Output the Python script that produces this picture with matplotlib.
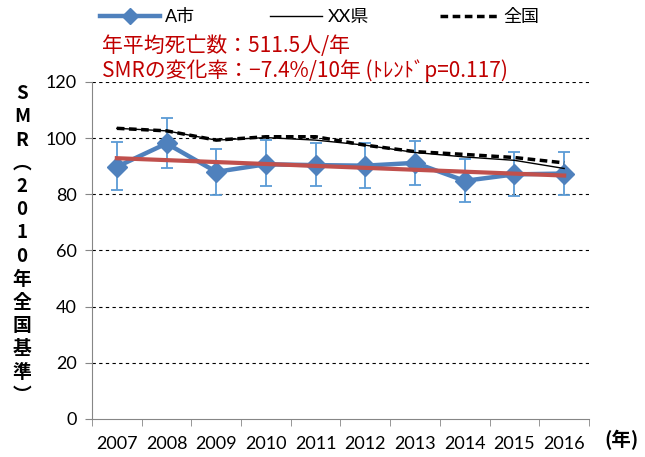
import matplotlib
matplotlib.use("Agg")
import matplotlib.pyplot as plt
import numpy as np

plt.rcParams['font.family'] = ['Lato', 'Noto Sans CJK JP', 'DejaVu Sans']

# ---- data ----
years = ['2007', '2008', '2009', '2010', '2011', '2012', '2013', '2014', '2015', '2016']
city = [89.8, 98.1, 88.0, 90.7, 90.4, 90.2, 91.2, 84.8, 87.1, 87.4]
city_hi = [98.5, 107.0, 96.3, 99.3, 98.3, 98.3, 99.0, 92.7, 94.9, 95.1]
city_lo = [81.7, 89.5, 79.9, 82.9, 82.9, 82.4, 83.2, 77.3, 79.4, 79.6]
pref = [103.5, 102.6, 99.3, 100.2, 99.3, 97.5, 94.9, 93.3, 92.1, 89.2]
nation = [103.5, 102.6, 99.3, 100.5, 100.5, 97.5, 95.2, 94.2, 93.1, 91.2]
yticks = [0, 20, 40, 60, 80, 100, 120]

x = np.arange(len(years))
city = np.array(city)
err = [city - np.array(city_lo), np.array(city_hi) - city]

# trend line (linear fit of city values)
k, b = np.polyfit(x, city, 1)

fig = plt.figure(figsize=(6.45, 4.57), dpi=100)
ax = fig.add_axes([0.1426, 0.0832, 0.9132 - 0.1426, 0.8206 - 0.0832])

blue = '#4F81BD'
ax.errorbar(x, city, yerr=err, fmt='none', ecolor='#5B9BD5', elinewidth=1.3,
            capsize=4, capthick=1.3, zorder=3)
h1, = ax.plot(x, city, color=blue, lw=3.2, marker='D', markersize=10, zorder=4)
h2, = ax.plot(x, pref, color='black', lw=1.0, zorder=5)
h3, = ax.plot(x, nation, color='black', lw=2.5, ls=(0, (2.2, 1.3)), zorder=5)
ax.plot(x, k * x + b, color='#C0504D', lw=3, zorder=6)

ax.set_xlim(-0.5, len(years) - 0.5)
ax.set_ylim(0, 120)
ax.set_yticks(yticks)
ax.set_xticks(x)
ax.set_xticklabels(years, fontsize=13)
ax.set_xticks(np.arange(len(years) + 1) - 0.5, minor=True)
ax.tick_params(axis='x', which='major', length=0, pad=12)
ax.tick_params(axis='x', which='minor', length=5, color='#868686', direction='out')
ax.tick_params(axis='y', labelsize=13, length=5, color='#868686', pad=6)

for y in yticks[1:]:
    ax.axhline(y, color='black', lw=0.8, ls=(0, (3, 3)), zorder=1)

for s in ['top', 'right']:
    ax.spines[s].set_visible(False)
for s in ['left', 'bottom']:
    ax.spines[s].set_color('#868686')

# legend: three separate entries placed along the top
entries = [(h1, 'A市', 100, 3.3), (h2, 'XX県', 270, 2.9), (h3, '全国', 440, 3.2)]
for h, lab, px, hl in entries:
    fig.legend([h], [lab], frameon=False, loc='center left',
               bbox_to_anchor=(px / 645, 1 - 17 / 457), fontsize=13,
               handlelength=hl, handletextpad=0.3, borderpad=0, borderaxespad=0,
               markerscale=0.8)

# red annotations
fig.text(0.158, 0.9, '年平均死亡数：511.5人/年', color='#C00000', fontsize=15,
         family=['Noto Sans CJK JP'], va='center')
fig.text(0.158, 0.846, 'SMRの変化率：−7.4%/10年 (ﾄﾚﾝﾄﾞp=0.117)', color='#C00000',
         fontsize=15, family=['Noto Sans CJK JP'], va='center')

# vertical y-label
ylab = 'SMR︵2010年全国基準︶'
fig.text(0.034, 0.465, '\n'.join(ylab), fontsize=13.5, fontweight='bold',
         family=['Noto Sans CJK JP'], ha='center', va='center', linespacing=1.28)

fig.text(0.963, 0.037, '(年)', fontsize=14, fontweight='bold',
         family=['Noto Sans CJK JP'], ha='center', va='center')

fig.savefig('out.png', dpi=100)
